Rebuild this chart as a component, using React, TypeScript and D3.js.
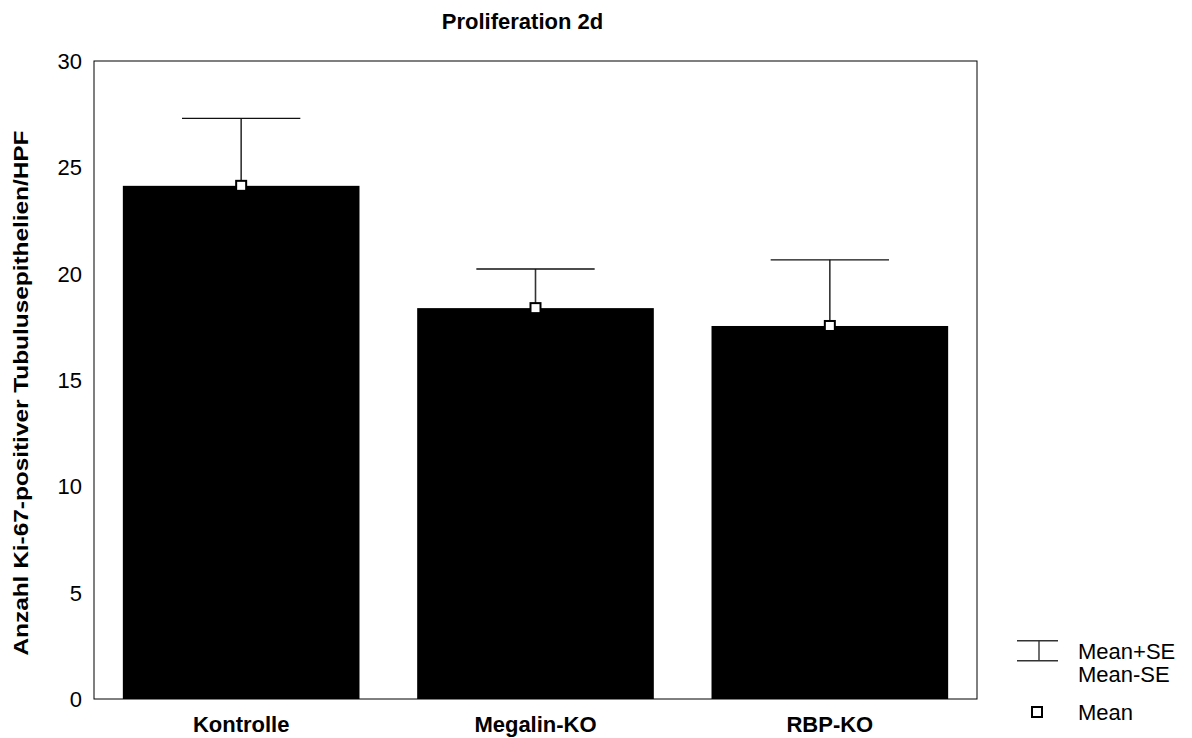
import React from "react";
import * as d3 from "d3";

const categories = ["Kontrolle", "Megalin-KO", "RBP-KO"];
const means = [24.13, 18.38, 17.54];
const meanPlusSE = [27.3, 20.22, 20.65];
const yTicks = [0, 5, 10, 15, 20, 25, 30];
const title = "Proliferation 2d";
const yLabel = "Anzahl Ki-67-positiver Tubulusepithelien/HPF";
const legendItems = ["Mean+SE", "Mean-SE", "Mean"];

const W = 1192;
const H = 738;
const plot = { left: 94, right: 977, top: 61, bottom: 699 };
const FONT = "Arial, 'Liberation Sans', Helvetica, sans-serif";

export default function App() {
  const x = d3
    .scaleBand<string>()
    .domain(categories)
    .range([plot.left, plot.right])
    .paddingInner(0.196)
    .paddingOuter(0.098);
  const y = d3.scaleLinear().domain([0, 30]).range([plot.bottom, plot.top]);
  const bw = x.bandwidth();

  return (
    <svg
      width={W}
      height={H}
      style={{ position: "absolute", left: 0, top: 0, background: "#fff" }}
      fontFamily={FONT}
    >
      <rect x={0} y={0} width={W} height={H} fill="#fff" />
      {/* Title */}
      <text x={522.5} y={28.5} textAnchor="middle" fontSize={22} fontWeight="bold" fill="#000">
        {title}
      </text>

      {/* Bars */}
      {categories.map((c, i) => (
        <rect
          key={c}
          x={x(c)}
          y={y(means[i])}
          width={bw}
          height={y(0) - y(means[i])}
          fill="#000"
        />
      ))}

      {/* Error bars */}
      {categories.map((c, i) => {
        const cx = (x(c) as number) + bw / 2;
        return (
          <g key={c + "-err"}>
            <line x1={cx} x2={cx} y1={y(means[i])} y2={y(meanPlusSE[i])} stroke="#333" strokeWidth={1.6} />
            <line x1={cx - bw / 4} x2={cx + bw / 4} y1={y(meanPlusSE[i])} y2={y(meanPlusSE[i])} stroke="#111" strokeWidth={1.4} />
          </g>
        );
      })}

      {/* Mean markers */}
      {categories.map((c, i) => {
        const cx = (x(c) as number) + bw / 2;
        return (
          <rect
            key={c + "-m"}
            x={cx - 5}
            y={y(means[i]) - 5}
            width={10}
            height={10}
            fill="#fff"
            stroke="#000"
            strokeWidth={2}
          />
        );
      })}

      {/* Frame */}
      <rect
        x={plot.left}
        y={plot.top}
        width={plot.right - plot.left}
        height={plot.bottom - plot.top}
        fill="none"
        stroke="#000"
        strokeWidth={1}
      />

      {/* Y tick labels */}
      {yTicks.map((t) => (
        <text key={t} x={82} y={y(t)} dy="0.36em" textAnchor="end" fontSize={22} fill="#000">
          {t}
        </text>
      ))}

      {/* X labels */}
      {categories.map((c) => (
        <text
          key={c + "-lab"}
          x={(x(c) as number) + bw / 2}
          y={731.5}
          textAnchor="middle"
          fontSize={22}
          fontWeight="bold"
          fill="#000"
        >
          {c}
        </text>
      ))}

      {/* Y label */}
      <text
        transform={`translate(28,393) rotate(-90)`}
        textAnchor="middle"
        fontSize={21}
        fontWeight="bold"
        fill="#000"
        textLength={525}
        lengthAdjust="spacingAndGlyphs"
      >
        {yLabel}
      </text>

      {/* Legend */}
      <g>
        <line x1={1017} x2={1058} y1={640.7} y2={640.7} stroke="#333" strokeWidth={1.4} />
        <line x1={1017} x2={1058} y1={660.7} y2={660.7} stroke="#333" strokeWidth={1.4} />
        <line x1={1039} x2={1039} y1={640.7} y2={660.7} stroke="#333" strokeWidth={1.4} />
        <rect x={1032} y={707} width={10} height={10} fill="#fff" stroke="#000" strokeWidth={2} />
        <text x={1078} y={659} fontSize={22} fill="#000">{legendItems[0]}</text>
        <text x={1078} y={681.7} fontSize={22} fill="#000">{legendItems[1]}</text>
        <text x={1078} y={720} fontSize={22} fill="#000">{legendItems[2]}</text>
      </g>
    </svg>
  );
}
